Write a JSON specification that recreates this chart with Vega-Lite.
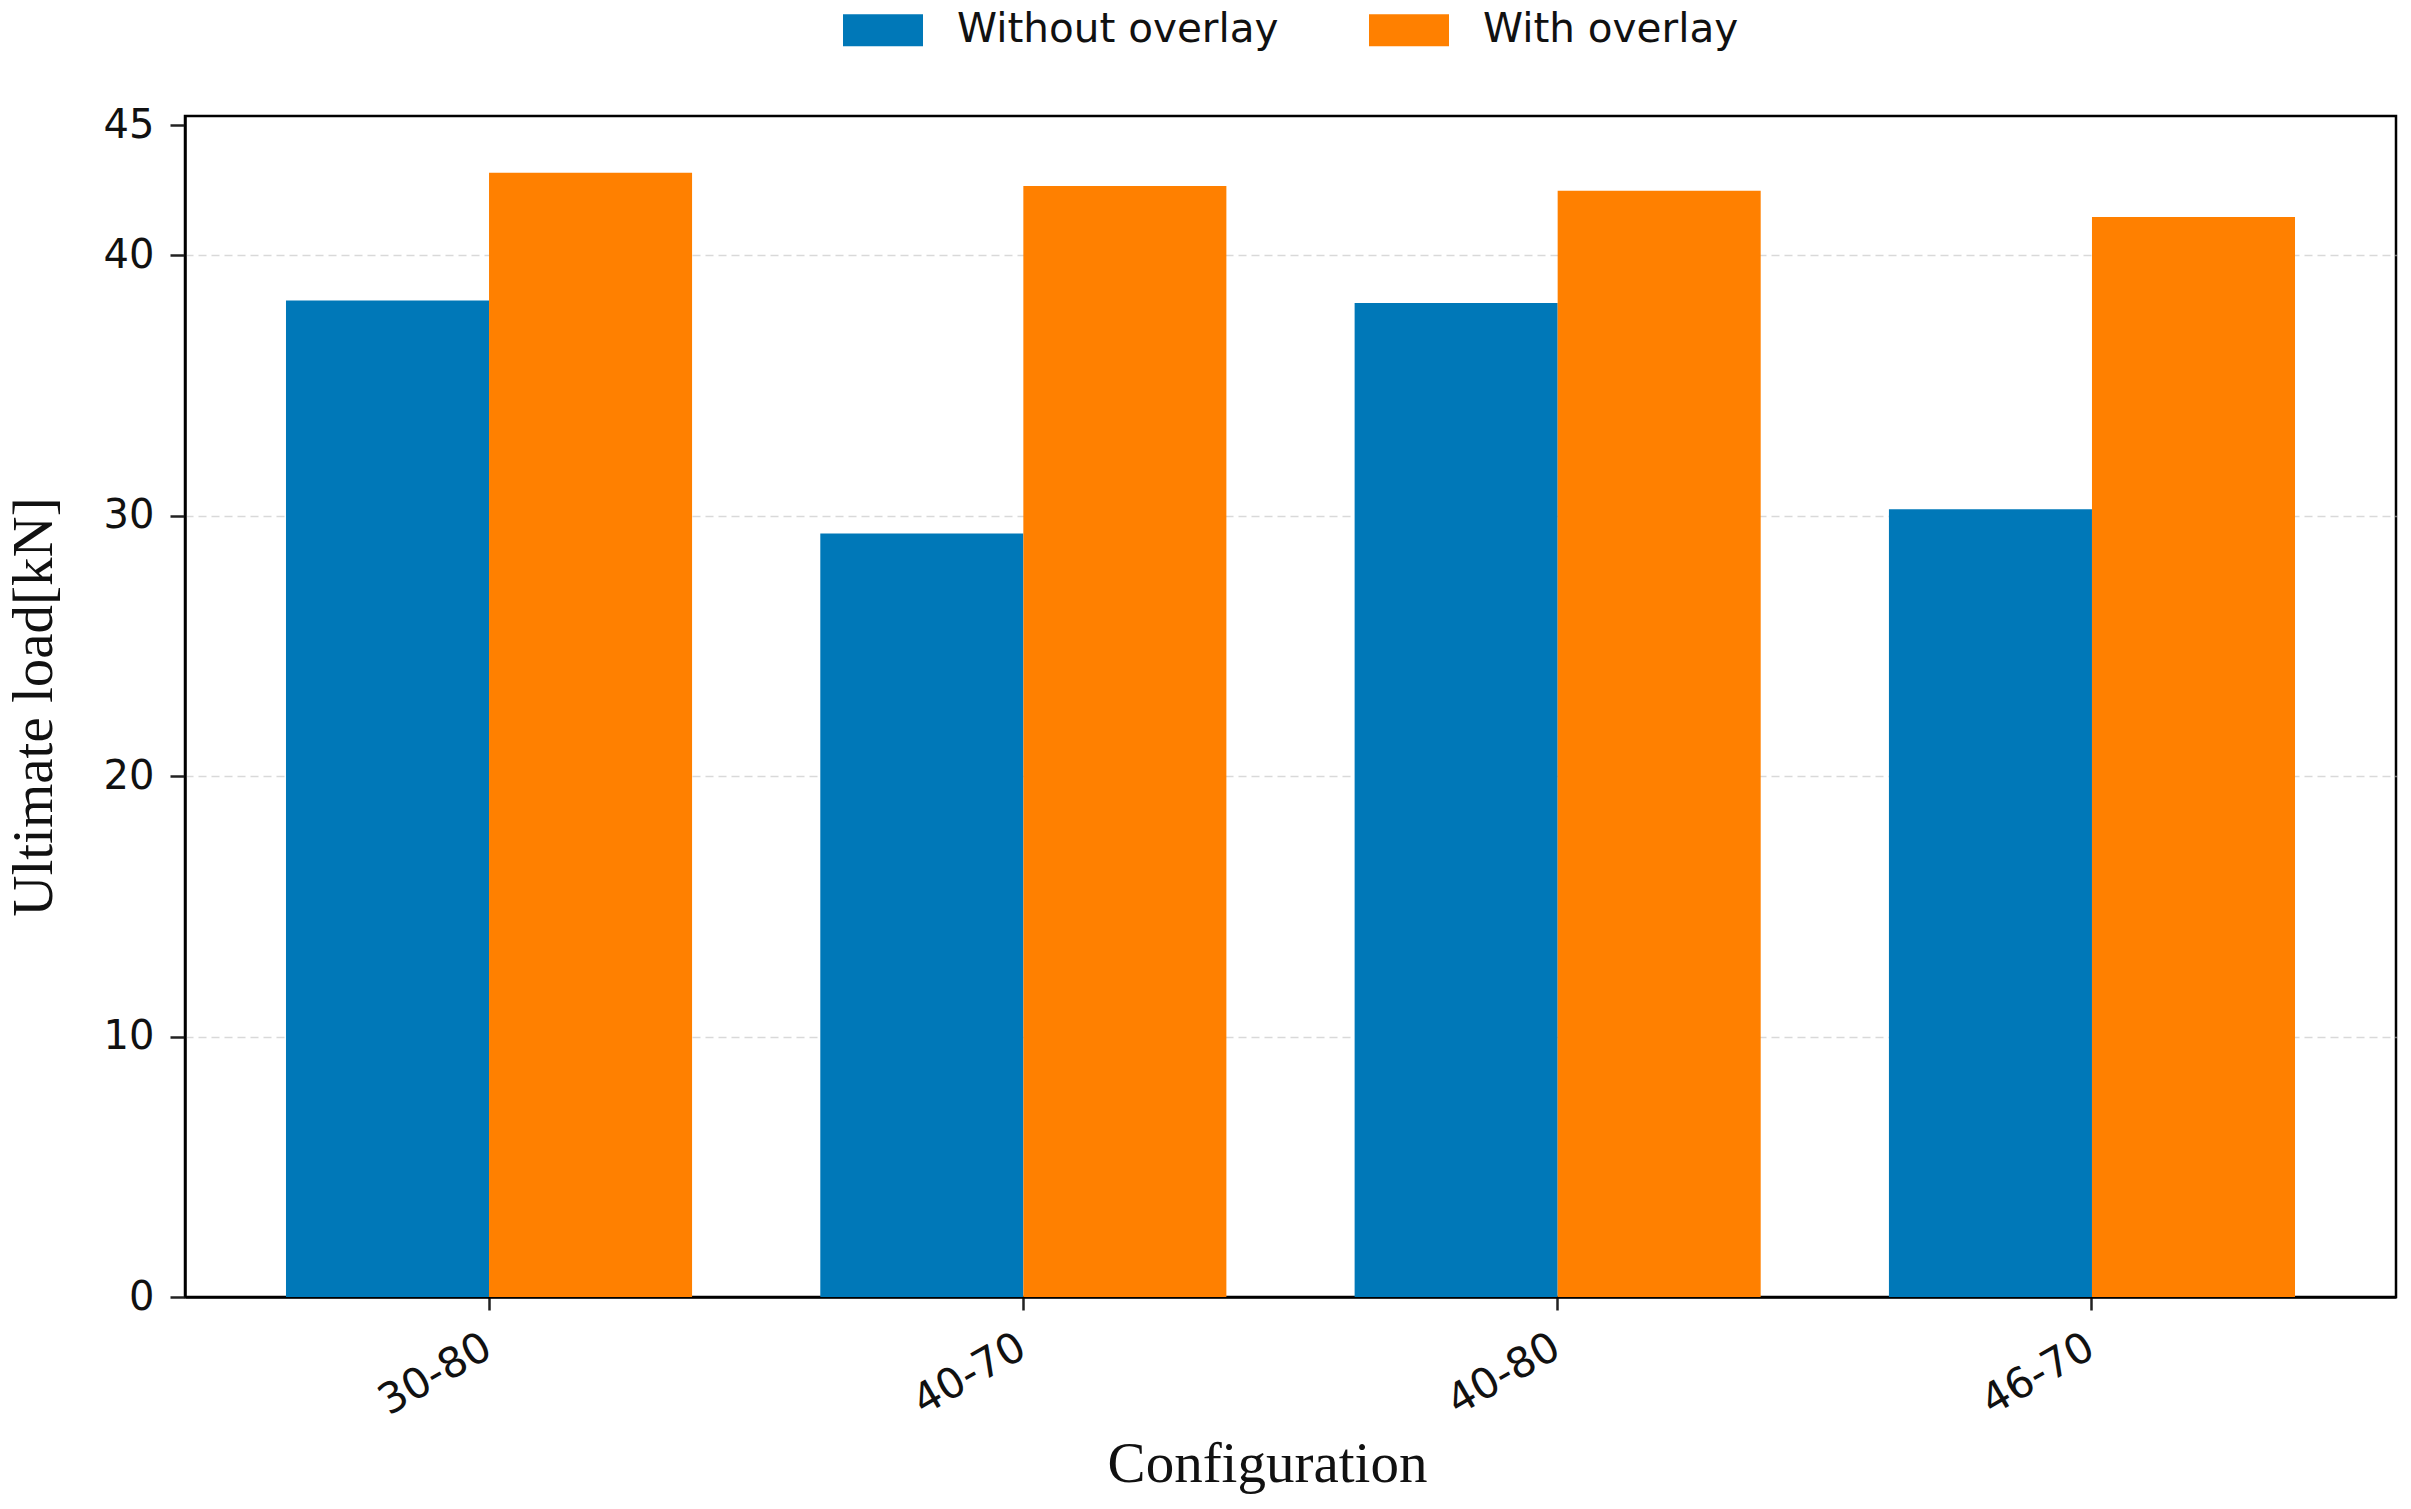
{
  "$schema": "https://vega.github.io/schema/vega-lite/v6.json",
  "autosize": {"type": "none"},
  "padding": {"left": 185, "top": 116, "right": 15, "bottom": 212},
  "width": 2211,
  "height": 1181,
  "background": "white",
  "data": {
    "values": [
      {"config": "30-80", "condition": "Without overlay", "load": 38.27},
      {"config": "30-80", "condition": "With overlay", "load": 43.17},
      {"config": "40-70", "condition": "Without overlay", "load": 29.32},
      {"config": "40-70", "condition": "With overlay", "load": 42.66},
      {"config": "40-80", "condition": "Without overlay", "load": 38.17},
      {"config": "40-80", "condition": "With overlay", "load": 42.48},
      {"config": "46-70", "condition": "Without overlay", "load": 30.25},
      {"config": "46-70", "condition": "With overlay", "load": 41.47}
    ]
  },
  "mark": {"type": "bar"},
  "encoding": {
    "x": {
      "field": "config",
      "type": "nominal",
      "sort": ["30-80", "40-70", "40-80", "46-70"],
      "scale": {"paddingInner": 0.24, "paddingOuter": 0.189},
      "axis": {
        "title": "Configuration",
        "labelAngle": -30,
        "labelAlign": "right",
        "labelBaseline": "top",
        "labelFontSize": 42,
        "labelPadding": 16,
        "labelOffset": -11,
        "tickSize": 13,
        "titlePadding": 14,
        "titleX": 1082
      }
    },
    "xOffset": {
      "field": "condition",
      "type": "nominal",
      "sort": ["Without overlay", "With overlay"],
      "scale": {"paddingInner": 0, "paddingOuter": 0}
    },
    "y": {
      "field": "load",
      "type": "quantitative",
      "scale": {"domain": [0, 45.35], "nice": false, "zero": true},
      "axis": {
        "title": "Ultimate load[kN]",
        "values": [0, 10, 20, 30, 40, 45],
        "grid": true,
        "gridDash": [8, 5],
        "gridColor": {"condition": {"test": "datum.value == 45 || datum.value == 0", "value": "transparent"}, "value": "#d9d9d9"},
        "gridWidth": 1.5,
        "tickSize": 15,
        "labelPadding": 16,
        "titlePadding": 40
      }
    },
    "color": {
      "field": "condition",
      "type": "nominal",
      "sort": ["Without overlay", "With overlay"],
      "scale": {"domain": ["Without overlay", "With overlay"], "range": ["#0078b8", "#ff8000"]},
      "legend": {
        "title": null,
        "orient": "none",
        "direction": "horizontal",
        "legendX": 658,
        "legendY": -126,
        "symbolType": "M-1,-0.4H1V0.4H-1Z",
        "symbolSize": 6400,
        "symbolStrokeWidth": 0,
        "symbolOpacity": 1,
        "labelFont": "DejaVu Sans",
        "labelFontSize": 40.5,
        "labelLimit": 0,
        "labelColor": "#111111",
        "labelOffset": 34,
        "columnPadding": 90,
        "padding": 0
      }
    }
  },
  "config": {
    "view": {"stroke": "black", "strokeWidth": 2.5},
    "axis": {
      "labelFont": "DejaVu Sans",
      "labelFontSize": 40,
      "labelColor": "#111111",
      "titleFont": "Liberation Serif",
      "titleFontSize": 57,
      "titleFontWeight": "normal",
      "titleColor": "#111111",
      "domainColor": "black",
      "domainWidth": 2.5,
      "tickColor": "#222222",
      "tickWidth": 2.5
    },
    "axisX": {"grid": false}
  }
}
